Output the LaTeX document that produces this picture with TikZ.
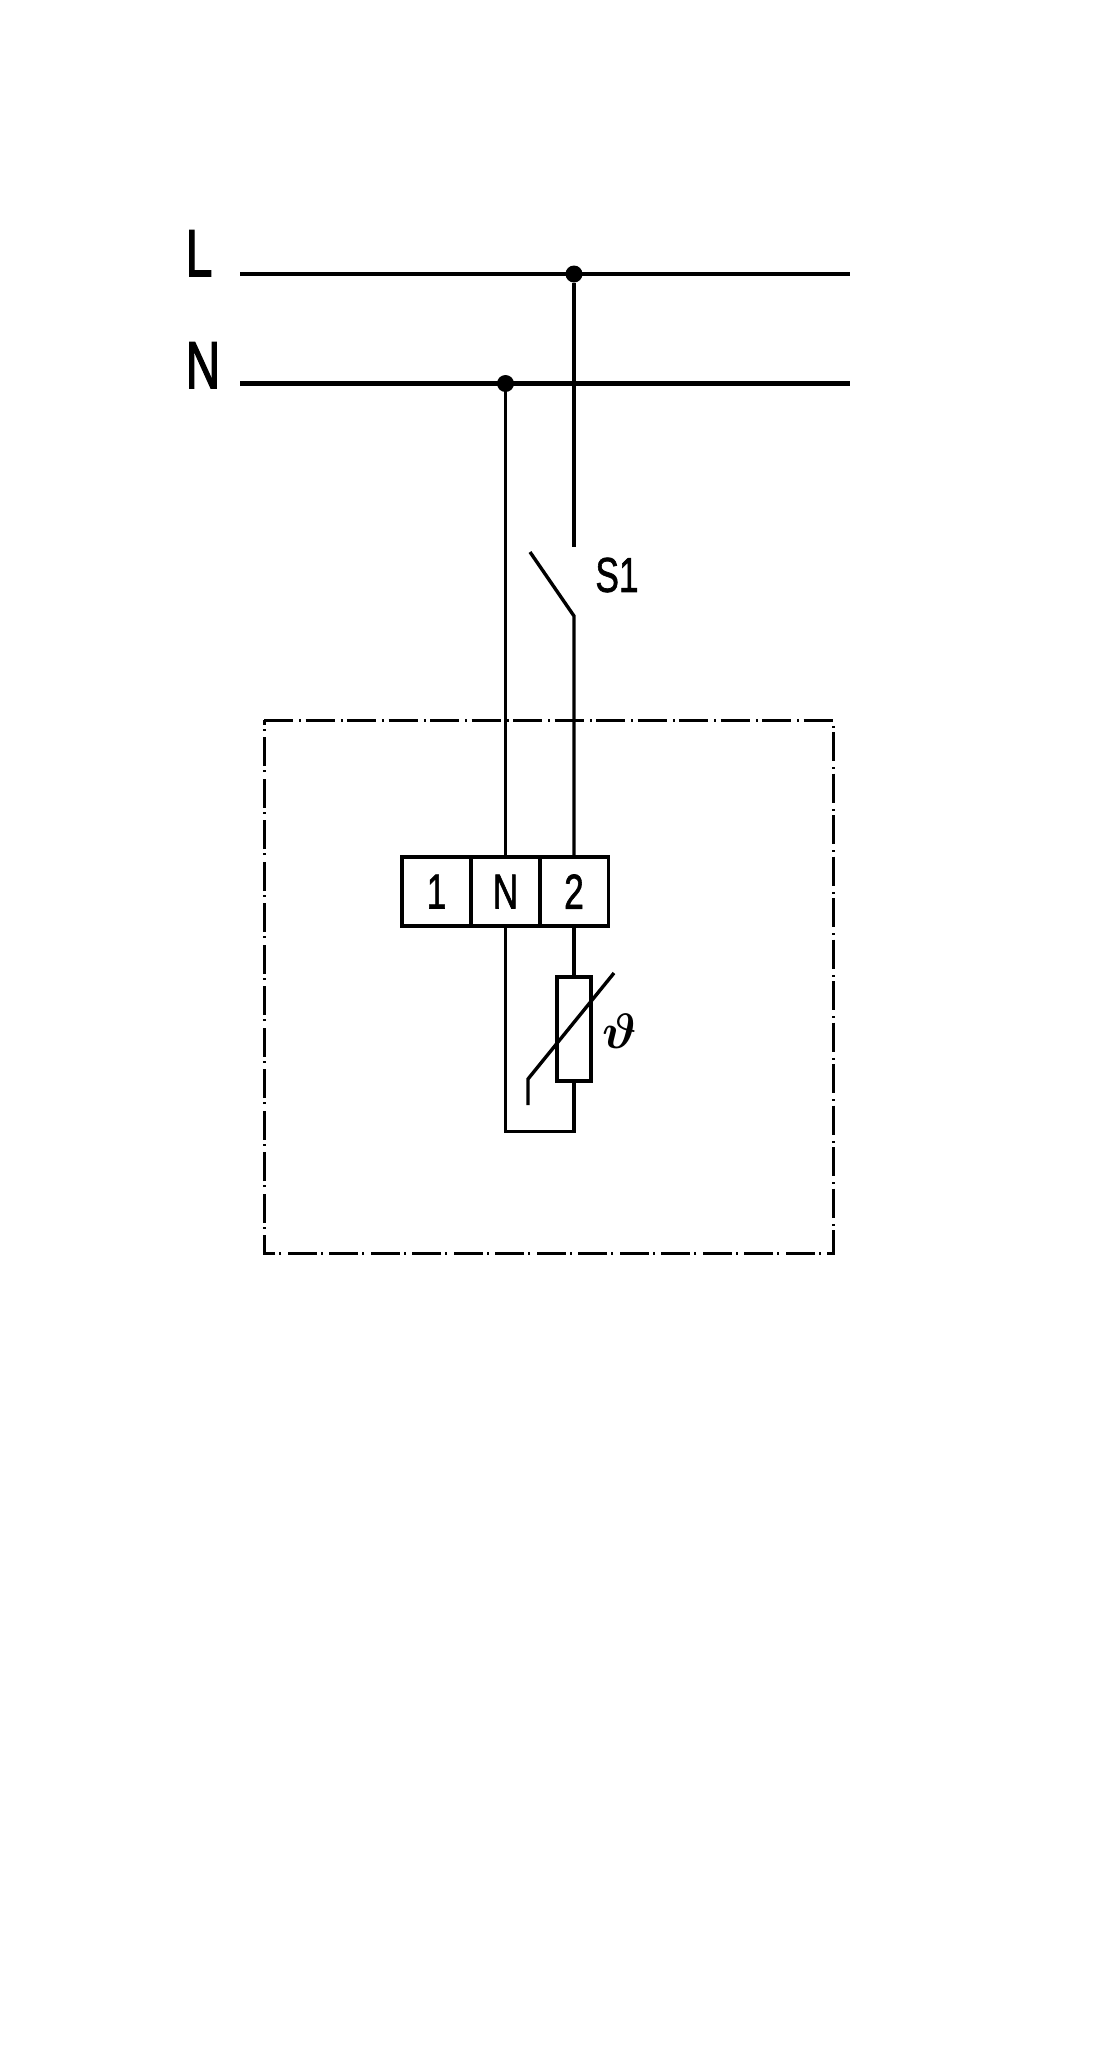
\documentclass[tikz,border=0pt]{standalone}
\usepackage{amsmath, amssymb}
\usepackage{fontspec}
\setmainfont{Liberation Sans}
\newfontfamily\namefont[FakeBold=1.6]{Liberation Sans}
\newfontfamily\busfont[FakeBold=2.6]{Liberation Sans}

\newcommand{\cellname}[1]{\scalebox{0.72}[1]{\namefont\fontsize{24.5}{24.5}\selectfont #1}}
\newcommand{\busname}[1]{\scalebox{0.72}[1]{\busfont\fontsize{33}{33}\selectfont #1}}

\tikzset{
	busline/.style = {line width=2.4pt},
	wire/.style = {line width=1.7pt},
	joint/.style = {circle, fill=black, inner sep=0pt, minimum size=8.5pt},
	cell/.style = {draw, line width=1.7pt, minimum width=34.5pt, minimum height=34.5pt, inner sep=0pt},
	busnode/.style = {inner sep=0pt, anchor=base},
	frameline/.style = {line width=1.5pt, dash pattern=on 14.5pt off 3.2pt on 1pt off 2.05pt},
}

\begin{document}
\begin{tikzpicture}[x = 0.5pt, y = -0.5pt]
	\useasboundingbox (0,0) rectangle (1100,2069);
	% mains
	\node[busnode] (nameL) at (199,276) {\busname{L}};
	\node[busnode] (nameN) at (203,388) {\busname{N}};
	\coordinate (busLa) at (240,274);
	\coordinate (busLb) at (850,274);
	\coordinate (busNa) at (240,383.5);
	\coordinate (busNb) at (850,383.5);
	\node[joint] (jointL) at (574,274) {};
	\node[joint] (jointN) at (505.5,383.5) {};
	\draw[busline] (busLa) -- (busLb);
	\draw[busline] (busNa) -- (busNb);
	% frame of the unit
	\coordinate (frameA) at (264,720);
	\coordinate (frameB) at (833,720);
	\coordinate (frameC) at (833,1253);
	\coordinate (frameD) at (264,1253);
	\draw[frameline] (frameA) -- (frameB) -- (frameC) -- (frameD) -- cycle;
	% terminals
	\node[cell] (cellOne) at (436.5,891.5) {\cellname{1}};
	\node[cell] (cellN) at (505.5,891.5) {\cellname{N}};
	\node[cell] (cellTwo) at (574,891.5) {\cellname{2}};
	% switch
	\coordinate (contactTop) at (574,547);
	\coordinate (bladeEnd) at (530,552);
	\coordinate (contactLow) at (574,616);
	\node (nameS) at (617,575) {\cellname{S1}};
	\draw[wire] (jointL) -- (contactTop);
	\draw[wire] (bladeEnd) -- (contactLow) -- (cellTwo.north);
	\draw[wire] (jointN) -- (cellN.north);
	% sensor
	\node[draw, line width=1.7pt, minimum width=17pt, minimum height=52pt, inner sep=0pt] (sensor) at (574,1029) {};
	\coordinate (loopA) at (505.5,1131.5);
	\coordinate (loopB) at (574,1131.5);
	\draw[wire] (cellTwo.south) -- (sensor.north);
	\draw[wire] (cellN.south) -- (loopA) -- (loopB) -- (sensor.south);
	\coordinate (slashA) at (528,1105);
	\coordinate (slashB) at (528,1079);
	\coordinate (slashC) at (614,973);
	\draw[wire] (slashA) -- (slashB) -- (slashC);
	\node[inner sep=0pt, font=\fontsize{25}{25}\selectfont] (theta) at (620,1031) {$\boldsymbol{\vartheta}$};
\end{tikzpicture}
\end{document}
